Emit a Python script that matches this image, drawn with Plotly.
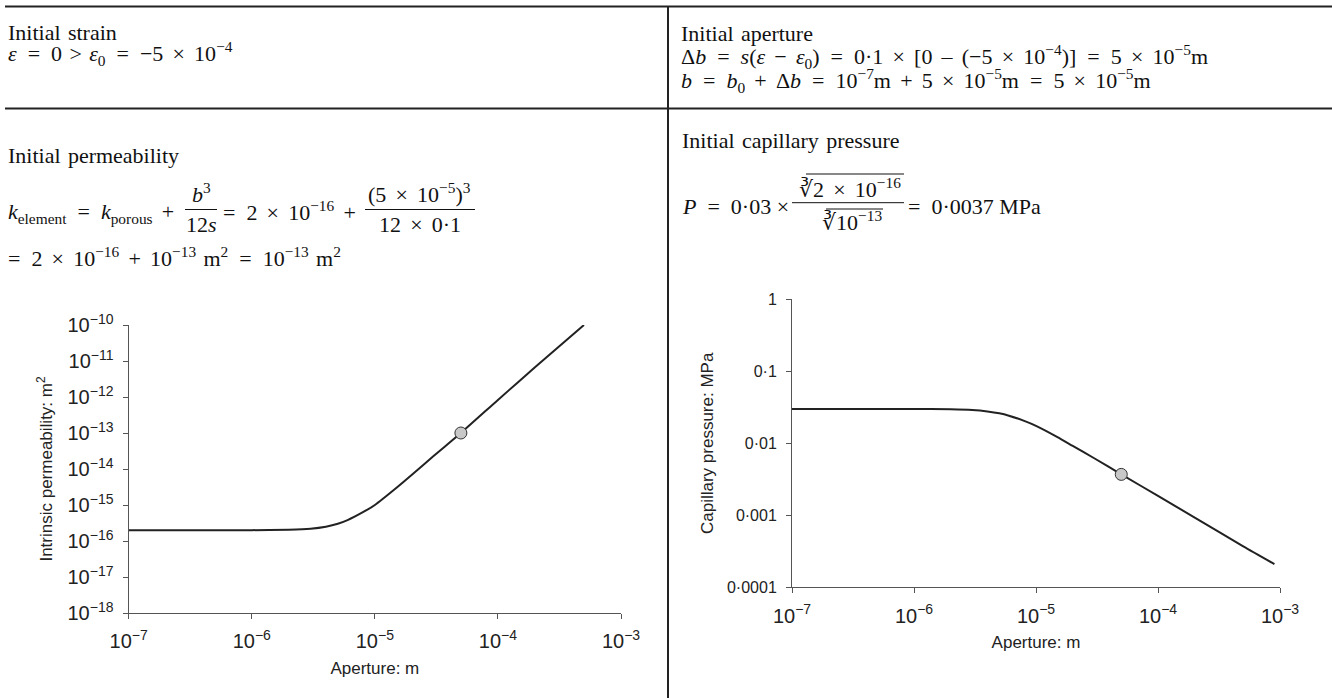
import plotly.graph_objects as go

W, H = 1332, 698

# ---------------- data ----------------
perm_aperture = [1e-7, 3e-7, 1e-6, 2e-6, 3e-6, 4e-6, 5e-6, 6e-6, 8e-6, 1e-5,
                 1.5e-5, 2e-5, 3e-5, 5e-5, 1e-4, 2e-4, 5e-4]
perm_value = [2.0e-16, 2.0e-16, 2.0e-16, 2.07e-16, 2.2e-16, 2.5e-16, 3.0e-16,
              3.8e-16, 6.3e-16, 1.0e-15, 3.0e-15, 6.9e-15, 2.3e-14, 1.0e-13,
              8.3e-13, 6.7e-12, 1.0e-10]
perm_point_x = [5e-5]
perm_point_y = [1e-13]

cap_aperture = [1e-7, 1e-6, 2e-6, 3e-6, 4e-6, 5e-6, 6e-6, 8e-6, 1e-5, 1.5e-5,
                2e-5, 3e-5, 5e-5, 1e-4, 2e-4, 5e-4, 9e-4]
cap_pressure = [0.030, 0.030, 0.0297, 0.0290, 0.0277, 0.0261, 0.0242, 0.0205,
                0.0175, 0.0122, 0.0092, 0.0062, 0.0037, 0.00186, 0.00093,
                0.00037, 0.00021]
cap_point_x = [5e-5]
cap_point_y = [0.0037]

cap_tickvals = [1e-4, 1e-3, 1e-2, 1e-1, 1]
cap_ticktext = ["0·0001", "0·001", "0·01", "0·1", "1"]


def px(x):
    return x / W


def py(y):
    return 1 - y / H


LINE = "#222222"
AX = "#555555"
SERIF = "Liberation Serif, Times New Roman, serif"
SANS = "Liberation Sans, Arial, sans-serif"

fig = go.Figure()

fig.add_trace(go.Scatter(x=perm_aperture, y=perm_value, mode="lines",
                         line=dict(color=LINE, width=2, shape="spline", smoothing=0.6),
                         xaxis="x", yaxis="y", showlegend=False, hoverinfo="skip"))
fig.add_trace(go.Scatter(x=perm_point_x, y=perm_point_y, mode="markers",
                         marker=dict(size=12, color="#c8c8c8", line=dict(color="#333333", width=1)),
                         xaxis="x", yaxis="y", showlegend=False))
fig.add_trace(go.Scatter(x=cap_aperture, y=cap_pressure, mode="lines",
                         line=dict(color=LINE, width=2, shape="spline", smoothing=0.6),
                         xaxis="x2", yaxis="y2", showlegend=False, hoverinfo="skip"))
fig.add_trace(go.Scatter(x=cap_point_x, y=cap_point_y, mode="markers",
                         marker=dict(size=12, color="#c8c8c8", line=dict(color="#333333", width=1)),
                         xaxis="x2", yaxis="y2", showlegend=False))

axis_common = dict(type="log", showline=True, linecolor=AX, linewidth=1,
                   ticks="outside", ticklen=5, tickcolor=AX, tickwidth=1,
                   showgrid=False, zeroline=False, mirror=False, automargin=False,
                   tickfont=dict(family=SANS, size=16, color="#222"),
                   ticklabelstandoff=6)

fig.update_layout(
    width=W, height=H, autosize=False, showlegend=False,
    margin=dict(l=0, r=0, t=0, b=0, pad=0, autoexpand=False),
    paper_bgcolor="white", plot_bgcolor="white",
    xaxis=dict(axis_common, domain=[px(128.7), px(621)], range=[-7, -3], dtick=1,
               exponentformat="power", anchor="y",
               title=dict(text="Aperture: m", font=dict(family=SANS, size=17, color="#222"), standoff=10)),
    yaxis=dict(axis_common, domain=[py(613), py(325)], range=[-18, -10], dtick=1,
               exponentformat="power", anchor="x",
               title=dict(text="Intrinsic permeability: m<sup>2</sup>",
                          font=dict(family=SANS, size=17, color="#222"), standoff=10)),
    xaxis2=dict(axis_common, domain=[px(792), px(1280)], range=[-7, -3], dtick=1,
                exponentformat="power", anchor="y2",
                title=dict(text="Aperture: m", font=dict(family=SANS, size=17, color="#222"), standoff=10)),
    yaxis2=dict(axis_common, domain=[py(587.3), py(299.3)], range=[-4, 0],
                tickvals=cap_tickvals, ticktext=cap_ticktext, anchor="x2",
                title=dict(text="Capillary pressure: MPa",
                           font=dict(family=SANS, size=17, color="#222"), standoff=9)),
)

# ---------------- table rules ----------------
shapes = []


def hline(x0, x1, y, width=2, color="#222"):
    shapes.append(dict(type="line", xref="paper", yref="paper",
                       x0=px(x0), x1=px(x1), y0=py(y), y1=py(y),
                       line=dict(color=color, width=width)))


hline(5, W, 6.5)
hline(5, W, 108.5)
shapes.append(dict(type="line", xref="paper", yref="paper",
                   x0=px(668), x1=px(668), y0=py(6), y1=py(H),
                   line=dict(color="#222", width=2)))
# fraction bars and radical vincula
hline(185, 217, 209.5, 1, "#111")
hline(365, 475, 209.5, 1, "#111")
hline(792, 904, 202.7, 1, "#111")
hline(806, 904, 174, 1, "#111")
hline(826, 883, 209, 1, "#111")
fig.update_layout(shapes=shapes)

# ---------------- formula text ----------------
SP = "\u2004"          # word space (justified text)
R = "\u2002"           # space around relations (=, >)
B = "\u2004\u200a"     # space around binary operators
ann = []


def txt(s, x, y, anchor="left", size=22):
    ann.append(dict(text=s, x=px(x), y=py(y), xref="paper", yref="paper",
                    xanchor=anchor, yanchor="middle", showarrow=False,
                    font=dict(family=SERIF, size=size, color="#111")))


LX = 6
txt(f"Initial{SP}strain", LX, 32)
txt(f"<i>ε</i>{R}={R}0{SP}>{SP}<i>ε</i><sub>0</sub>{R}={R}−5{B}×{B}10<sup>−4</sup>", LX, 54)

txt(f"Initial{SP}aperture", 679, 33)
txt(f"Δ<i>b</i>{R}={R}<i>s</i>(<i>ε</i>{B}−{B}<i>ε</i><sub>0</sub>){R}={R}0·1{B}×{B}[0{B}–{B}(−5{B}×{B}10<sup>−4</sup>)]{R}={R}5{B}×{B}10<sup>−5</sup>m", 679, 57)
txt(f"<i>b</i>{R}={R}<i>b</i><sub>0</sub>{B}+{B}Δ<i>b</i>{R}={R}10<sup>−7</sup>m{B}+{B}5{B}×{B}10<sup>−5</sup>m{R}={R}5{B}×{B}10<sup>−5</sup>m", 679, 80)

txt(f"Initial{SP}permeability", LX, 155)
txt(f"<i>k</i><sub>element</sub>{R}={R}<i>k</i><sub>porous</sub>{B}+", LX, 213)
txt("<i>b</i><sup>3</sup>", 201.7, 193, "center")
txt("12<i>s</i>", 201.7, 224, "center")
txt(f"={R}2{B}×{B}10<sup>−16</sup>{B}+", 221, 211)
txt(f"(5{B}×{B}10<sup>−5</sup>)<sup>3</sup>", 419, 193, "center")
txt(f"12{B}×{B}0·1", 420, 224, "center")
txt(f"={R}2{B}×{B}10<sup>−16</sup>{B}+{B}10<sup>−13</sup>{SP}m<sup>2</sup>{R}={R}10<sup>−13</sup>{SP}m<sup>2</sup>", LX, 257)

txt(f"Initial{SP}capillary{SP}pressure", 680, 140)
txt(f"<i>P</i>{R}={R}0·03 ×", 680, 206)
txt(f"∛2{B}×{B}10<sup>−16</sup>", 850, 188, "center")
txt("∛10<sup>−13</sup>", 852, 221, "center")
txt(f"={R}0·0037 MPa", 906, 206)

fig.update_layout(annotations=ann)

# the page body otherwise adds an 8px margin around the figure
fig.write_html("out.html", config={"displayModeBar": False},
               post_script="document.body.style.margin='0px';")
